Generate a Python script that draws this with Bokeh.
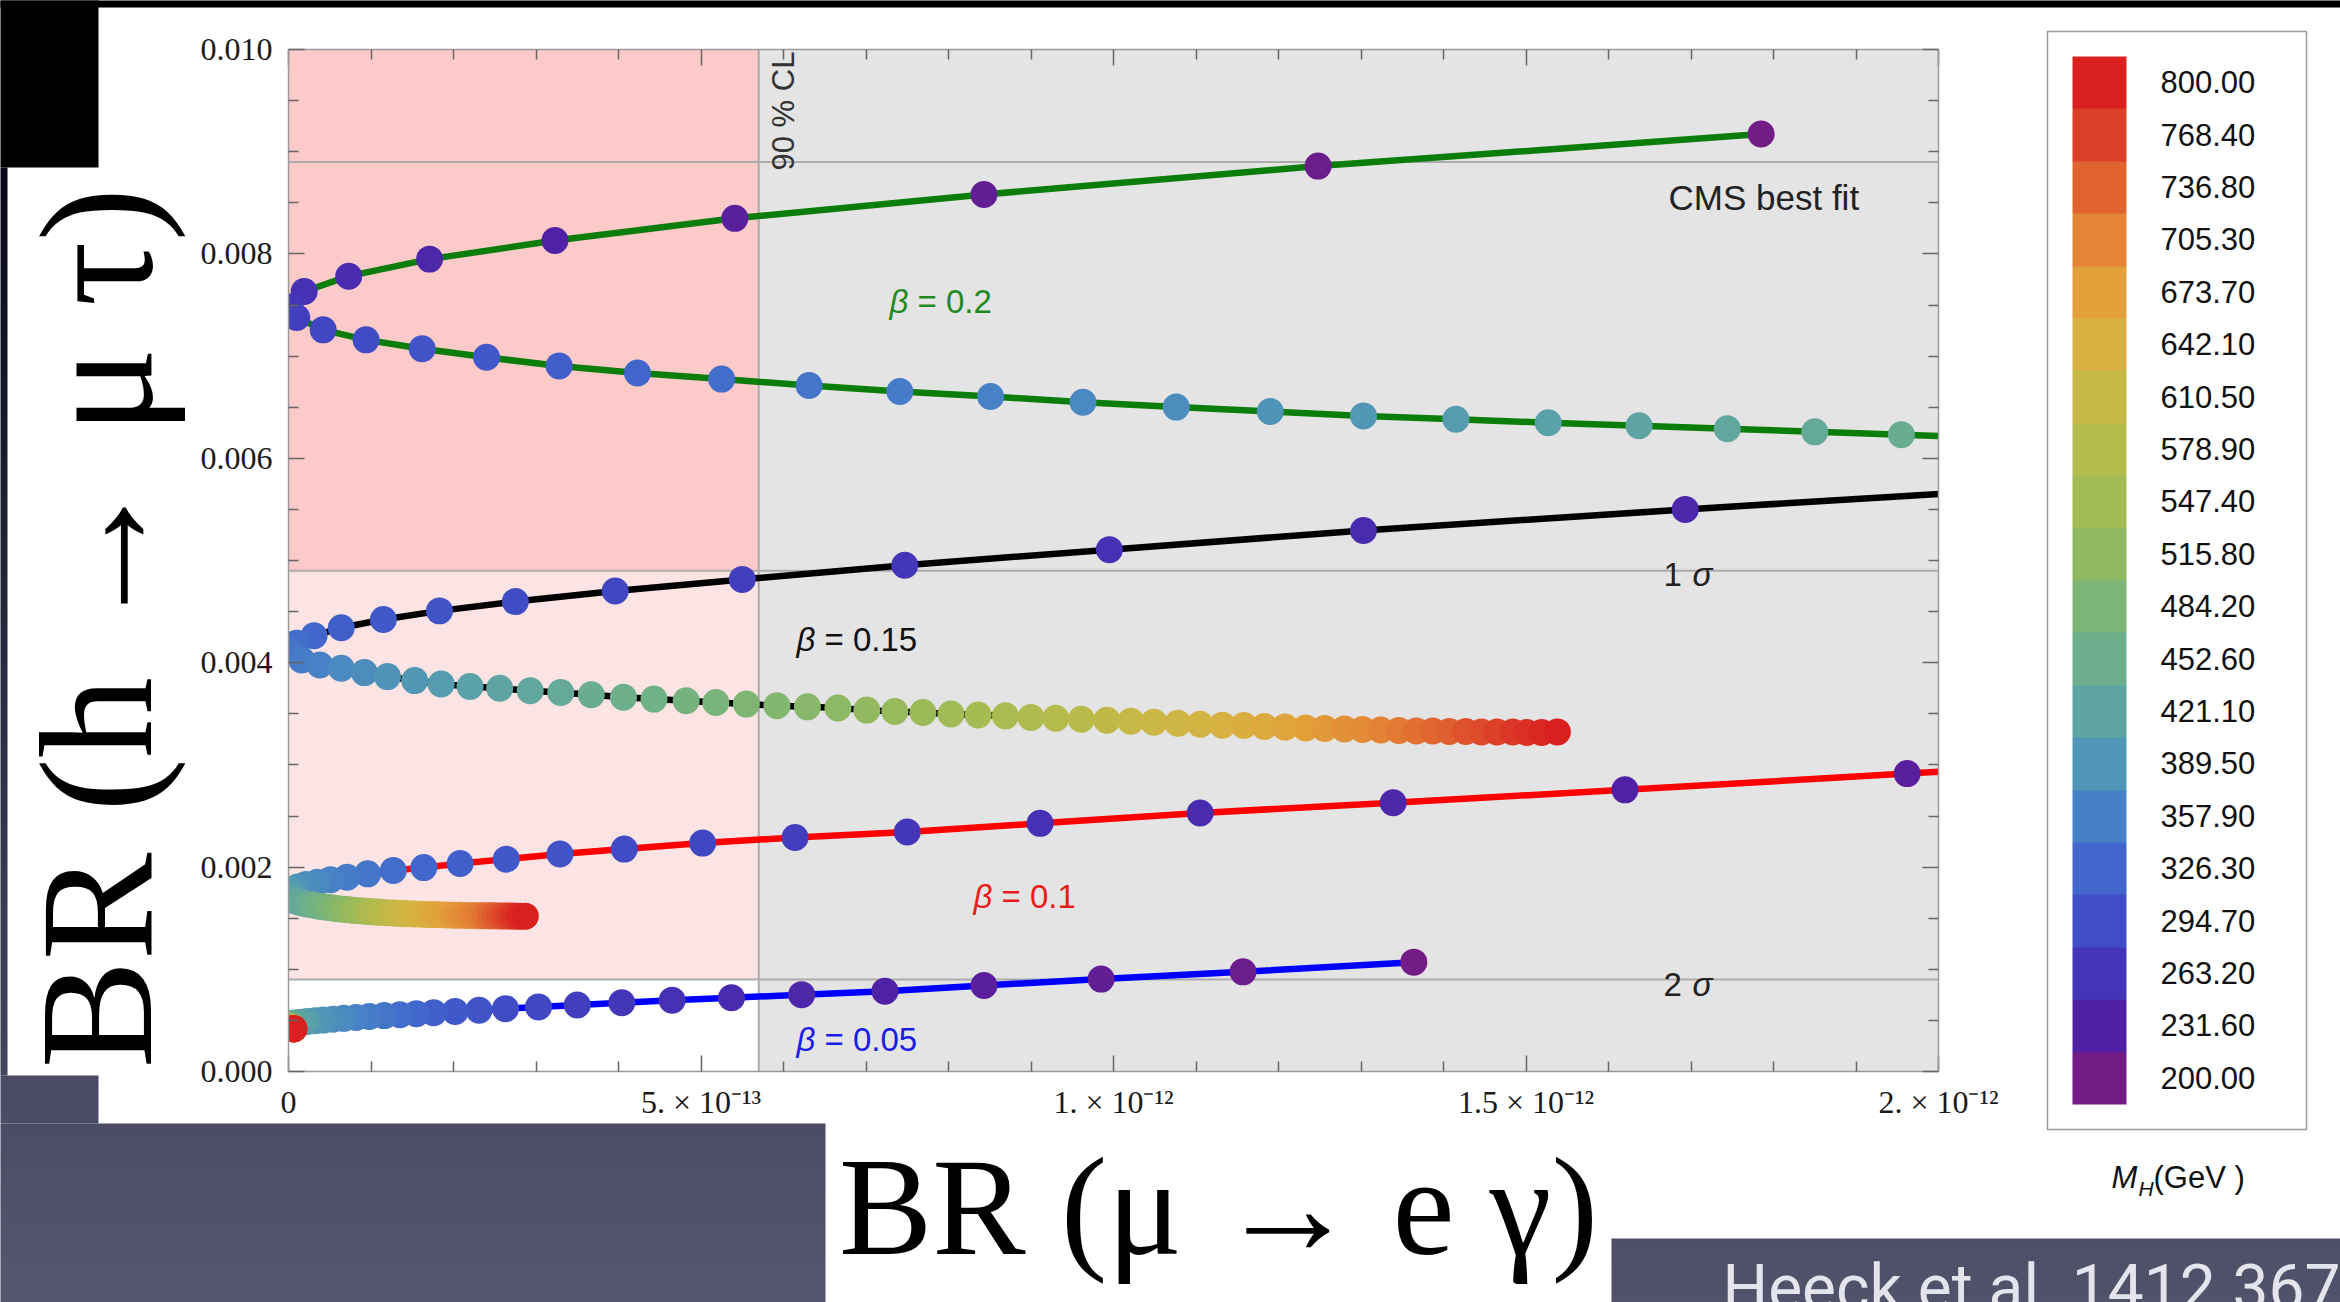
import numpy as np
from bokeh.plotting import figure
from bokeh.models import (BoxAnnotation, Span, Label, LinearAxis, FixedTicker, CustomJSTickFormatter,
                          PrintfTickFormatter, ColorBar, LinearColorMapper, ColumnDataSource, Range1d)
from bokeh.transform import transform
from bokeh.embed import file_html
from bokeh.resources import INLINE

# ---------------- data (x in 1e-13, y in 1e-3) ----------------
X_UNIT = 1e-13
Y_UNIT = 1e-3

X_MAX = 2e-12
Y_MAX = 0.010
CL90_X = 5.7e-13          # 90 % CL limit on BR(mu -> e gamma)
CMS_BEST = 0.0089         # CMS best fit
SIGMA1 = 0.0049           # 1 sigma
SIGMA2 = 0.0009           # 2 sigma

X_TICKS = [0.0, 5e-13, 1e-12, 1.5e-12, 2e-12]
X_TICK_LABELS = ["0", "5. \u00d7 10\u207b\u00b9\u00b3", "1. \u00d7 10\u207b\u00b9\u00b2",
                 "1.5 \u00d7 10\u207b\u00b9\u00b2", "2. \u00d7 10\u207b\u00b9\u00b2"]
Y_TICKS = [0.0, 0.002, 0.004, 0.006, 0.008, 0.010]

# M_H sample grid (GeV) used along every curve
MH_GRID = [200.0, 208.5, 216.9, 225.4, 233.8, 242.3, 250.7, 259.2, 267.6, 276.1, 284.5, 293.0,
           301.4, 309.9, 318.3, 326.8, 335.2, 343.7, 352.1, 360.6, 369.0, 377.5, 385.9, 394.4,
           402.8, 411.3, 419.7, 428.2, 436.6, 445.1, 453.5, 462.0, 470.4, 478.9, 487.3, 495.8,
           504.2, 512.7, 521.1, 529.6, 538.0, 546.5, 554.9, 563.4, 571.8, 580.3, 588.7, 597.2,
           605.6, 614.1, 622.5, 631.0, 639.4, 647.9, 656.3, 664.8, 673.2, 681.7, 690.1, 698.6,
           707.0, 715.5, 723.9, 732.4, 740.8, 749.3, 757.7, 766.2, 774.6, 783.1, 791.5, 800.0]

# beta = 0.2
B20_X = [17.85, 12.48, 8.43, 5.41, 3.23, 1.71, 0.73, 0.19, 0.02,
         0.10, 0.42, 0.94, 1.62, 2.40, 3.28, 4.23, 5.25, 6.31, 7.41, 8.51, 9.63, 10.76, 11.90,
         13.03, 14.15, 15.27, 16.37, 17.44, 18.50, 19.55]
B20_Y = [9.173, 8.859, 8.581, 8.348, 8.131, 7.949, 7.782, 7.632, 7.480,
         7.377, 7.257, 7.159, 7.072, 6.988, 6.904, 6.835, 6.775, 6.712, 6.653, 6.605, 6.548,
         6.501, 6.458, 6.415, 6.382, 6.348, 6.318, 6.289, 6.259, 6.230]
B20_K0 = 0
B20_TAIL = ([21.0], [6.19])          # curve continues past the frame

# beta = 0.15
B15_X = [16.93, 13.03, 9.95, 7.47, 5.50, 3.96, 2.75, 1.83, 1.15, 0.64, 0.31, 0.10, 0.02,
         0.16, 0.38, 0.64, 0.92, 1.20, 1.53, 1.85, 2.20, 2.56, 2.93, 3.30, 3.67, 4.06, 4.43,
         4.82, 5.18, 5.55, 5.92, 6.29, 6.66, 7.01, 7.35, 7.69, 8.03, 8.36, 8.69, 9.00, 9.30,
         9.61, 9.92, 10.21, 10.49, 10.78, 11.05, 11.32, 11.58, 11.83, 12.08, 12.33, 12.56,
         12.80, 13.02, 13.24, 13.46, 13.67, 13.87, 14.07, 14.27, 14.46, 14.65, 14.84, 15.01,
         15.19, 15.38]
B15_Y = [5.500, 5.294, 5.106, 4.954, 4.815, 4.702, 4.598, 4.507, 4.423, 4.342, 4.263, 4.190, 4.115,
         4.026, 3.977, 3.945, 3.903, 3.864, 3.825, 3.792, 3.767, 3.750, 3.725, 3.708, 3.686,
         3.662, 3.644, 3.627, 3.610, 3.595, 3.578, 3.568, 3.556, 3.536, 3.522, 3.513, 3.498,
         3.489, 3.480, 3.465, 3.456, 3.446, 3.437, 3.427, 3.418, 3.408, 3.398, 3.389, 3.385,
         3.375, 3.370, 3.361, 3.356, 3.351, 3.346, 3.342, 3.337, 3.332, 3.332, 3.327, 3.327,
         3.323, 3.323, 3.323, 3.318, 3.318, 3.323]
B15_K0 = 5
B15_HEAD = ([21.0], [5.70])          # curve comes in from beyond the frame

# beta = 0.1
B10_X = [19.62, 16.20, 13.39, 11.05, 9.11, 7.50, 6.14, 5.02, 4.07, 3.29, 2.64, 2.08, 1.64, 1.27,
         0.96, 0.71, 0.51, 0.35, 0.21, 0.11, 0.04, 0.01,
         0.03, 0.07, 0.12, 0.18, 0.24, 0.31, 0.37, 0.43, 0.49, 0.55, 0.60, 0.66, 0.71, 0.76,
         0.81, 0.86, 0.92, 0.97, 1.02, 1.07, 1.12, 1.19, 1.26, 1.32, 1.39, 1.45, 1.52, 1.60,
         1.68, 1.76, 1.84, 1.92, 2.00, 2.08, 2.17, 2.25, 2.33, 2.39, 2.45, 2.50, 2.56, 2.61,
         2.66, 2.71, 2.76, 2.81, 2.87]
B10_Y = [2.915, 2.756, 2.630, 2.530, 2.428, 2.344, 2.290, 2.235, 2.176, 2.128, 2.078, 2.035,
         1.995, 1.967, 1.934, 1.901, 1.876, 1.852, 1.830, 1.805, 1.778, 1.745,
         1.700, 1.672, 1.658, 1.646, 1.636, 1.626, 1.618, 1.611, 1.604, 1.598, 1.593, 1.588,
         1.584, 1.580, 1.576, 1.573, 1.569, 1.566, 1.563, 1.560, 1.557, 1.554, 1.551, 1.548,
         1.545, 1.543, 1.541, 1.539, 1.537, 1.535, 1.533, 1.531, 1.530, 1.528, 1.527, 1.526,
         1.525, 1.524, 1.523, 1.523, 1.522, 1.522, 1.521, 1.521, 1.520, 1.520, 1.520]
B10_K0 = 3
B10_HEAD = ([21.0], [2.98])

# beta = 0.05
B05_X = [13.64, 11.57, 9.85, 8.43, 7.23, 6.22, 5.37, 4.65, 4.04, 3.50, 3.03, 2.63, 2.31, 2.02,
         1.76, 1.55, 1.35, 1.16, 0.98, 0.82, 0.67, 0.54, 0.42, 0.32, 0.23, 0.16, 0.10, 0.05, 0.02,
         0.015, 0.013, 0.013, 0.014, 0.016, 0.018, 0.020, 0.022, 0.024, 0.026, 0.028, 0.030,
         0.032, 0.034, 0.036, 0.038, 0.040, 0.042, 0.044, 0.046, 0.048, 0.049, 0.051, 0.052,
         0.053, 0.054, 0.055, 0.056, 0.057, 0.058, 0.059, 0.060, 0.060, 0.061, 0.061, 0.062,
         0.062, 0.063, 0.063, 0.064, 0.064, 0.065, 0.065]
B05_Y = [1.070, 0.975, 0.904, 0.842, 0.786, 0.752, 0.722, 0.697, 0.673, 0.650, 0.632, 0.615,
         0.600, 0.587, 0.576, 0.566, 0.556, 0.547, 0.538, 0.529, 0.520, 0.511, 0.503, 0.496,
         0.489, 0.483, 0.478, 0.473, 0.466,
         0.460, 0.454, 0.449, 0.445, 0.442, 0.439, 0.437, 0.435, 0.433, 0.431, 0.430, 0.429,
         0.428, 0.427, 0.426, 0.425, 0.425, 0.424, 0.424, 0.423, 0.423, 0.422, 0.422, 0.421,
         0.421, 0.421, 0.420, 0.420, 0.420, 0.420, 0.419, 0.419, 0.419, 0.419, 0.419, 0.418,
         0.418, 0.418, 0.418, 0.418, 0.418, 0.418, 0.418]
B05_K0 = 0

# colour bar (M_H in GeV)
CB_VALUES = [200.00, 231.60, 263.20, 294.70, 326.30, 357.90, 389.50, 421.10, 452.60, 484.20,
             515.80, 547.40, 578.90, 610.50, 642.10, 673.70, 705.30, 736.80, 768.40, 800.00]
CB_COLORS = ["#731c86", "#5020a3", "#4434b8", "#3f4ec6", "#4266cc", "#4681c7", "#5096b6",
             "#5ea5a2", "#6daf8c", "#7cb577", "#8fb963", "#a2bb55", "#b4bb4d", "#c8b846",
             "#d8b141", "#e2a03b", "#e38535", "#e06330", "#dc3f28", "#d9201f"]

# ---------------- helpers ----------------
def smooth_palette(vals, cols, n=256):
    rgb = np.array([[int(c[i:i + 2], 16) for i in (1, 3, 5)] for c in cols], float)
    t = np.linspace(vals[0], vals[-1], n)
    out = []
    for ti in t:
        r, g, b = (np.interp(ti, vals, rgb[:, j]) for j in range(3))
        out.append("#%02x%02x%02x" % (int(round(r)), int(round(g)), int(round(b))))
    return out

# reference-pixel helpers (frame left at x=288, frame bottom at y=1071 of the picture)
def sx(X):
    return X - 288

def sy(Y):
    return 1071 - Y

W, H = 2340, 1302
p = figure(width=W, height=H, x_range=Range1d(0, X_MAX), y_range=Range1d(0, Y_MAX),
           output_backend="svg", toolbar_location=None,
           min_border_left=288, min_border_right=W - 1938, min_border_top=49,
           min_border_bottom=H - 1071,
           background_fill_color="white", border_fill_color="white", outline_line_color=None,
           x_axis_type=None, y_axis_type=None)
p.grid.visible = False

x_minor = [k * 1e-13 for k in range(1, 20) if k % 5]
y_minor = [k * 0.0005 for k in range(1, 20) if k % 4]

def style_axis(ax, labels):
    ax.axis_line_color = "#9a9a9a"
    ax.axis_line_width = 1.5
    ax.major_tick_line_color = "#666666"
    ax.major_tick_line_width = 1.5
    ax.major_tick_in = 16
    ax.major_tick_out = 0
    ax.minor_tick_line_color = "#666666"
    ax.minor_tick_line_width = 1.5
    ax.minor_tick_in = 10
    ax.minor_tick_out = 0
    if labels:
        ax.major_label_text_font = "Liberation Serif"
        ax.major_label_text_font_size = "32px"
        ax.major_label_text_color = "#1a1a1a"
    else:
        ax.major_label_text_font_size = "1px"
        ax.major_label_standoff = 0

xfmt = CustomJSTickFormatter(args=dict(labels=X_TICK_LABELS),
                             code="const i = Math.round(tick / 5e-13); return labels[i];")
blank = CustomJSTickFormatter(code="return '';")

ax_b = LinearAxis(ticker=FixedTicker(ticks=X_TICKS, minor_ticks=x_minor), formatter=xfmt)
style_axis(ax_b, True)
ax_b.major_label_standoff = 12
ax_b.axis_label = "\u2003\u2002BR (\u03bc \u2192 e \u03b3)"
ax_b.axis_label_text_font = "Liberation Serif"
ax_b.axis_label_text_font_size = "140px"
ax_b.axis_label_text_font_style = "normal"
ax_b.axis_label_text_color = "#000000"
ax_b.axis_label_standoff = 6

ax_l = LinearAxis(ticker=FixedTicker(ticks=Y_TICKS, minor_ticks=y_minor),
                  formatter=PrintfTickFormatter(format="%.3f"))
style_axis(ax_l, True)
ax_l.major_label_standoff = 16
ax_l.axis_label = "BR (h \u2192 \u03bc \u03c4)\u2002\u2004"
ax_l.axis_label_text_font = "Liberation Serif"
ax_l.axis_label_text_font_size = "162px"
ax_l.axis_label_text_font_style = "normal"
ax_l.axis_label_text_color = "#000000"
ax_l.axis_label_standoff = 12

ax_t = LinearAxis(ticker=FixedTicker(ticks=X_TICKS, minor_ticks=x_minor), formatter=blank)
style_axis(ax_t, False)
ax_r = LinearAxis(ticker=FixedTicker(ticks=Y_TICKS, minor_ticks=y_minor), formatter=blank)
style_axis(ax_r, False)
p.add_layout(ax_b, "below")
p.add_layout(ax_l, "left")
p.add_layout(ax_t, "above")
p.add_layout(ax_r, "right")

# shaded regions
p.add_layout(BoxAnnotation(left=0, right=CL90_X, bottom=SIGMA1, top=Y_MAX, fill_color="#fdcaca",
                           fill_alpha=1, line_color=None, level="underlay"))
p.add_layout(BoxAnnotation(left=0, right=CL90_X, bottom=SIGMA2, top=SIGMA1, fill_color="#fde4e4",
                           fill_alpha=1, line_color=None, level="underlay"))
p.add_layout(BoxAnnotation(left=CL90_X, right=X_MAX, bottom=0, top=Y_MAX, fill_color="#e4e4e4",
                           fill_alpha=1, line_color=None, level="underlay"))
for yv in (CMS_BEST, SIGMA1, SIGMA2):
    p.add_layout(Span(location=yv, dimension="width", line_color="#ababab", line_width=2,
                      level="underlay"))
p.add_layout(Span(location=CL90_X, dimension="height", line_color="#ababab", line_width=2,
                  level="underlay"))

# curves
mapper = LinearColorMapper(palette=smooth_palette(CB_VALUES, CB_COLORS), low=200, high=800)
curves = [
    (B20_X, B20_Y, B20_K0, ([], []), B20_TAIL, "#0a7d0a"),
    (B15_X, B15_Y, B15_K0, B15_HEAD, ([], []), "#000000"),
    (B10_X, B10_Y, B10_K0, B10_HEAD, ([], []), "#ff0000"),
    (B05_X, B05_Y, B05_K0, ([], []), ([], []), "#0000ff"),
]
for xs, ys, k0, head, tail, col in curves:
    lx = (np.array(head[0] + xs + tail[0]) * X_UNIT)
    ly = (np.array(head[1] + ys + tail[1]) * Y_UNIT)
    p.line(lx, ly, line_color=col, line_width=6.5)
for xs, ys, k0, head, tail, col in curves:
    src = ColumnDataSource(dict(x=np.array(xs) * X_UNIT, y=np.array(ys) * Y_UNIT,
                                mh=MH_GRID[k0:k0 + len(xs)]))
    p.scatter("x", "y", source=src, size=27, fill_color=transform("mh", mapper), line_color=None)

# in-plot texts
def lab(text, X, Y, size, font="Liberation Sans", style="normal", color="#1a1a1a", angle=0.0):
    p.add_layout(Label(x=sx(X), y=sy(Y), x_units="screen", y_units="screen", text=text,
                       text_font=font, text_font_size=f"{size}px", text_font_style=style,
                       text_color=color, angle=angle, text_align="left",
                       text_baseline="alphabetic"))

lab("90 % CL", 783, 170, 31, color="#333333", angle=np.pi / 2)
lab("CMS best fit", 1668, 197, 35, color="#222222")
lab("1", 1663, 574, 33, color="#222222")
lab("\u03c3", 1692, 574, 33, style="italic", color="#222222")
lab("2", 1663, 984, 33, color="#222222")
lab("\u03c3", 1692, 984, 33, style="italic", color="#222222")
for X, Y, txt, col in [(889, 301, "= 0.2", "#1f8a1f"), (796, 639, "= 0.15", "#111111"),
                       (973, 896, "= 0.1", "#e81c1c"), (796, 1039, "= 0.05", "#1c1ce6")]:
    lab("\u03b2", X, Y, 33, style="italic", color=col)
    lab(txt, X + 28, Y, 33, color=col)

# slide background pieces around the plot (colour-bar annotations are laid out freely)
def fill_rect(X0, Y0, X1, Y1, bottom_color, top_color=None):
    top_color = top_color or bottom_color
    cm = LinearColorMapper(palette=smooth_palette([0.0, 1.0], [bottom_color, top_color], 64),
                           low=0, high=1)
    p.add_layout(ColorBar(color_mapper=cm, ticker=FixedTicker(ticks=[]), orientation="vertical",
                          width=int(round(X1 - X0)), height=int(round(Y1 - Y0)), padding=0,
                          label_standoff=0, major_tick_line_color=None,
                          minor_tick_line_color=None, major_label_text_font_size="1px",
                          bar_line_color=None, border_line_color=None, background_fill_alpha=0,
                          location=(sx(X0), sy(Y1))))

def cb_text(text, X, Ybase, size, font="Liberation Sans", style="normal", color="#111111",
            descent=0.21):
    cm = LinearColorMapper(palette=["#ffffff", "#ffffff"], low=0, high=1)
    p.add_layout(ColorBar(color_mapper=cm, ticker=FixedTicker(ticks=[]), orientation="horizontal",
                          width=1, height=1, padding=0, scale_alpha=0, title=text,
                          title_text_font=font, title_text_font_size=f"{size}px",
                          title_text_font_style=style, title_text_color=color, title_standoff=0,
                          label_standoff=0, major_tick_line_color=None,
                          minor_tick_line_color=None, major_label_text_font_size="1px",
                          bar_line_color=None, border_line_color=None, background_fill_alpha=0,
                          location=(sx(X), sy(Ybase + descent * size) - 1)))

fill_rect(0, 0, 98, 167, "#000000")
fill_rect(0, 0, 2340, 7, "#000000")
fill_rect(0, 167, 7, 1075, "#44445e", "#08081a")
fill_rect(0, 1075, 98, 1123, "#4c4c66", "#4a4a64")
fill_rect(0, 1123, 825, 1302, "#56566f", "#4c4c66")
fill_rect(1611, 1238, 2340, 1302, "#52526b", "#4e4e68")

cb_text("Heeck et al. 1412.3671", 1722, 1308, 64, font="Roboto", color="#e4e4ec", descent=0.27)
cb_text("M", 2111, 1188, 31, style="italic")
cb_text("H", 2138, 1195, 21, style="italic")
cb_text("(GeV )", 2153, 1188, 31)

# colour bar
cb_mapper = LinearColorMapper(palette=CB_COLORS, low=CB_VALUES[0] - 600 / 38,
                              high=CB_VALUES[-1] + 600 / 38)
cb = ColorBar(color_mapper=cb_mapper, ticker=FixedTicker(ticks=CB_VALUES),
              formatter=PrintfTickFormatter(format="%.2f\u2007\u2009"), orientation="vertical",
              width=54, height=1048, padding=25, label_standoff=34,
              major_label_text_font="Liberation Sans", major_label_text_font_size="31px",
              major_label_text_color="#111111", major_tick_line_color=None,
              minor_tick_line_color=None, bar_line_color=None, border_line_color="#9a9a9a",
              border_line_width=1.5, background_fill_color="white", background_fill_alpha=1,
              location=(sx(2047), sy(1129)))
p.add_layout(cb)

html = file_html(p, INLINE, title="BR plot")
open("out.html", "w").write(html)
